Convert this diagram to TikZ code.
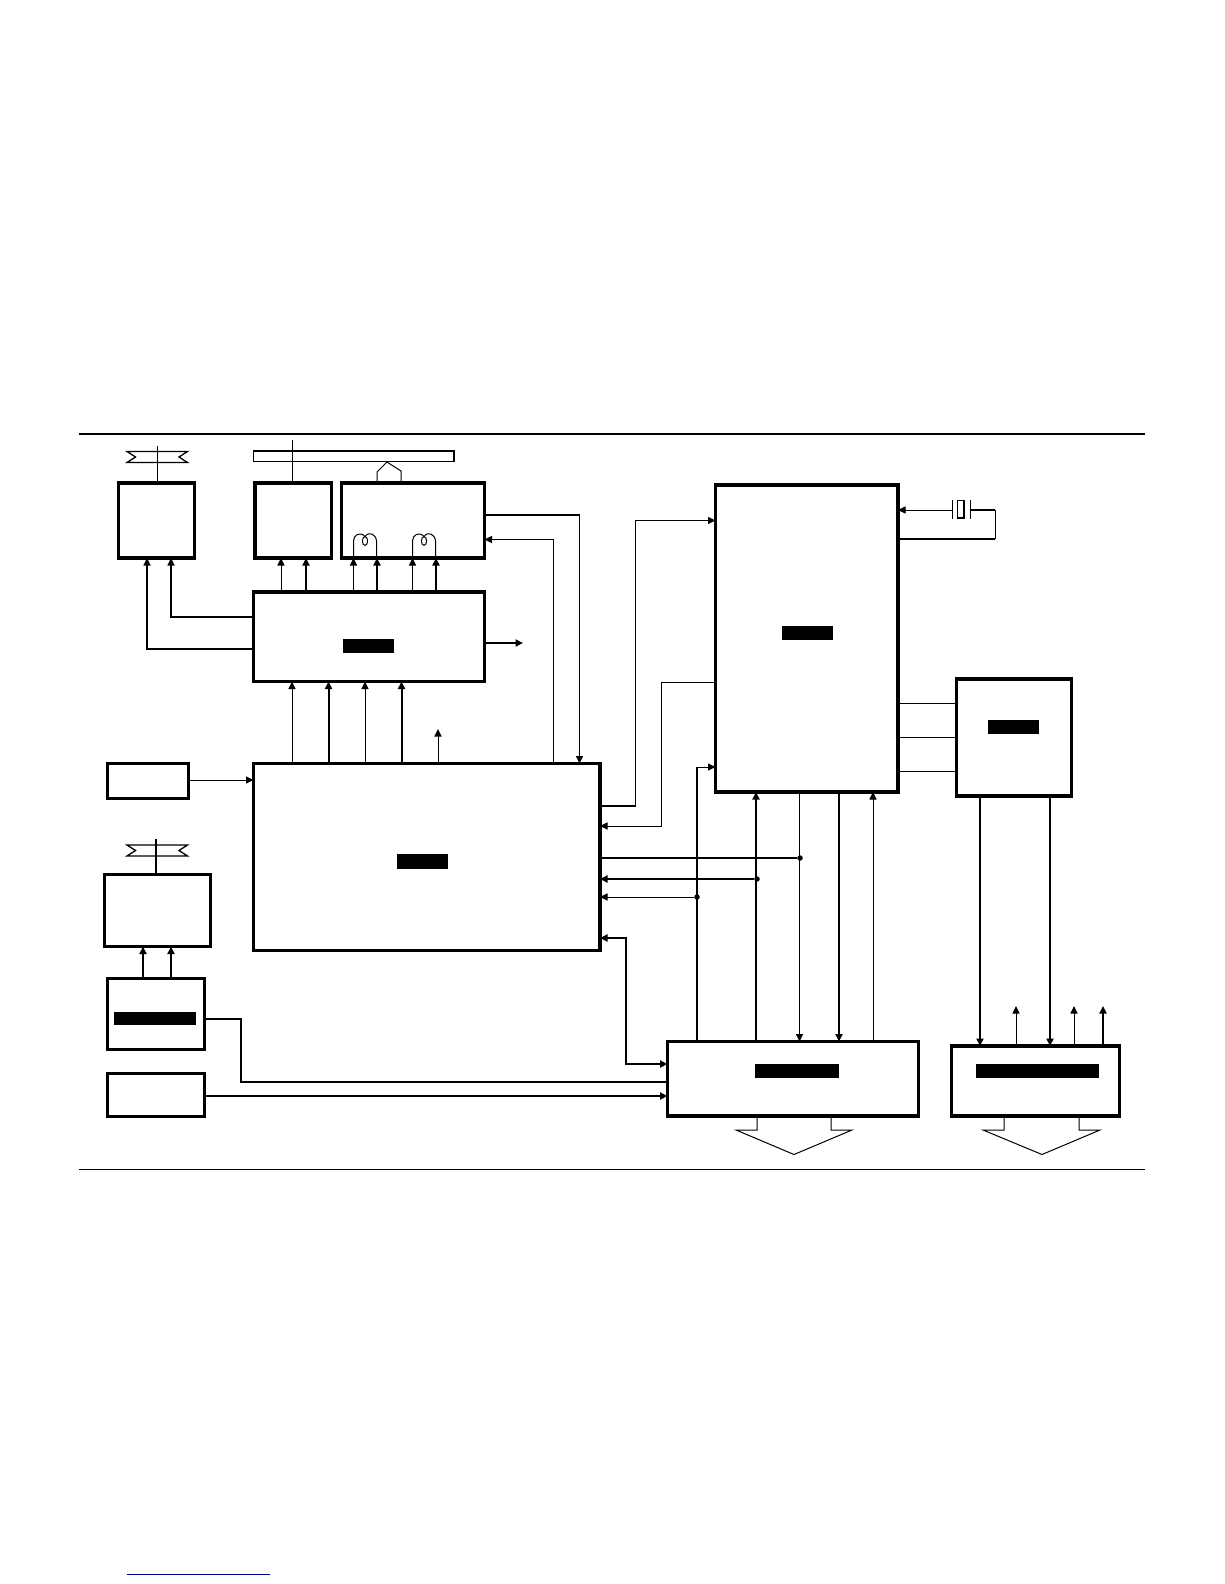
\documentclass[tikz,border=0pt]{standalone}
\usetikzlibrary{arrows.meta}
\newcommand{\mybox}[6]{\pgfmathsetmacro\mybw{#5-#3}\pgfmathsetmacro\mybh{#6-#4}\node[#1,minimum width=\mybw pt,minimum height=\mybh pt] (#2) at ({(#3+#5)/2},{(#4+#6)/2}) {};}
\tikzset{
  blk/.style={draw=black,line width=3.3pt,inner sep=0pt,outer sep=0pt,rectangle,fill=white},
  blkb/.style={draw=none,fill=black,inner sep=0pt,outer sep=0pt,rectangle},
  barbox/.style={draw=black,line width=1.3pt,inner sep=0pt,outer sep=0pt,rectangle},
  thinl/.style={line width=1pt},
  medl/.style={line width=2pt},
  tip/.style={-{Triangle[length=7.5pt,width=7pt]}},
  tipb/.style={{Triangle[length=7.5pt,width=7pt]}-{Triangle[length=7.5pt,width=7pt]}},
  dot/.style={circle,fill=black,inner sep=0pt,outer sep=0pt,minimum size=5.5pt},
}
\begin{document}
\begin{tikzpicture}[x=1pt,y=-1pt]
\useasboundingbox (0,0) rectangle (1224,1584);
% rules
\coordinate (rtl) at (79,434); \coordinate (rtr) at (1145,434);
\coordinate (rbl) at (79,1169.5); \coordinate (rbr) at (1145,1169.5);
\draw[line width=2pt] (rtl) -- (rtr);
\draw[thinl] (rbl) -- (rbr);
\coordinate (lnkl) at (127,1574); \coordinate (lnkr) at (270,1574);
\draw[line width=1pt,blue!60!black] (lnkl) -- (lnkr);
% boxes
\mybox{blk}{A}{118.5}{483}{194.5}{558}
\mybox{blk}{B}{255}{483}{331.5}{558}
\mybox{blk}{C}{341.5}{483}{484.5}{558}
\mybox{blk}{D}{253.5}{592}{484.5}{681.5}
\mybox{blkb}{Dk}{343}{639}{394}{653}
\mybox{blk}{E}{253.5}{763.5}{600}{950.5}
\mybox{blkb}{Ek}{397}{854}{448}{869}
\mybox{blk}{F}{715.5}{485}{898}{792}
\mybox{blkb}{Fk}{782}{626}{833}{640}
\mybox{blk}{J}{956.5}{679}{1071.5}{796}
\mybox{blkb}{Jk}{988}{720}{1039}{734}
\mybox{blk}{G}{667.5}{1041.5}{918.5}{1116}
\mybox{blkb}{Gk}{755}{1064}{839}{1078}
\mybox{blk}{H}{951.5}{1046}{1119.5}{1116}
\mybox{blkb}{Hk}{976}{1064}{1099}{1078}
\mybox{blk}{K}{107.5}{763.5}{188.5}{798.5}
\mybox{blk}{L}{104.5}{874.5}{210.5}{946.5}
\mybox{blk}{M}{107.5}{978.5}{204.5}{1049.5}
\mybox{blkb}{Mk}{114}{1012}{196}{1025}
\mybox{blk}{N}{107.5}{1073.5}{204.5}{1116.5}
\mybox{barbox}{Bar}{253.5}{451}{454}{461.5}
% antenna shapes
\draw[line width=1.3pt,line join=miter] (127,451.5) -- (187.5,451.5) -- (179,457) -- (187.5,462.5) -- (127,462.5) -- (135.5,457) -- cycle;
\draw[line width=1.3pt,line join=miter] (127,845) -- (187.5,845) -- (179,850.5) -- (187.5,856) -- (127,856) -- (135.5,850.5) -- cycle;
\coordinate (ant1) at (157.5,446); \coordinate (ant2) at (292,440); \coordinate (ant3) at (156,839);
\draw[thinl] (ant1) -- (A.north -| ant1);
\draw[thinl] (ant2) -- (B.north -| ant2);
\draw[medl] (ant3) -- (L.north -| ant3);
% house
\draw[thinl] (C.north -| 377,0) -- (377,472) -- (387,462) -- (401,471) -- (C.north -| 401,0);
% loops
\draw[thinl] (353.5,558) -- (353.5,541) .. controls (353.5,535) and (360,531) .. (365,536.5) .. controls (369,531) and (376,534) .. (376.5,541) -- (376.5,558);
\draw[thinl] (365,541) ellipse (2.6 and 4.4);
\begin{scope}[xshift=59pt]
\draw[thinl] (353.5,558) -- (353.5,541) .. controls (353.5,535) and (360,531) .. (365,536.5) .. controls (369,531) and (376,534) .. (376.5,541) -- (376.5,558);
\draw[thinl] (365,541) ellipse (2.6 and 4.4);
\end{scope}
% D -> A
\draw[line width=1.3pt,tip] (D.north west |- 0,617) -- (171,617) -- (A.south -| 171,0);
\draw[line width=1.3pt,tip] (D.north west |- 0,649) -- (147,649) -- (A.south -| 147,0);
% D -> B, C
\draw[thinl,tip] (D.north -| 281,0) -- (B.south -| 281,0);
\draw[medl,tip] (D.north -| 306,0) -- (B.south -| 306,0);
\draw[thinl,tip] (D.north -| 353.5,0) -- (C.south -| 353.5,0);
\draw[medl,tip] (D.north -| 377,0) -- (C.south -| 377,0);
\draw[thinl,tip] (D.north -| 412.5,0) -- (C.south -| 412.5,0);
\draw[medl,tip] (D.north -| 436,0) -- (C.south -| 436,0);
% D out
\coordinate (dout) at (523,643);
\draw[medl,tip] (D.east |- dout) -- (dout);
% E -> D
\draw[thinl,tip] (E.north -| 292,0) -- (D.south -| 292,0);
\draw[medl,tip] (E.north -| 328.5,0) -- (D.south -| 328.5,0);
\draw[thinl,tip] (E.north -| 365,0) -- (D.south -| 365,0);
\draw[medl,tip] (E.north -| 401.5,0) -- (D.south -| 401.5,0);
\coordinate (eout) at (438,729);
\draw[thinl,tip] (E.north -| eout) -- (eout);
% C <-> E
\draw[medl] (C.east |- 0,515) -- (579.5,515);
\draw[thinl,tip] (579.5,515) -- (E.north -| 579.5,0);
\draw[thinl,tip] (E.north -| 553,0) -- (553,539.5) -- (C.east |- 0,539.5);
% K -> E
\draw[thinl,tip] (K.east |- 0,780) -- (E.west |- 0,780);
% E <-> F
\draw[medl] (E.east |- 0,806) -- (635.5,806);
\draw[thinl,tip] (635.5,806) -- (635.5,520.5) -- (F.west |- 0,520.5);
\draw[thinl,tip] (F.west |- 0,682) -- (661,682) -- (661,826) -- (E.east |- 0,826);
% buses
\node[dot] (d1) at (800,858) {};
\node[dot] (d2) at (757,879) {};
\node[dot] (d3) at (697,897) {};
\draw[medl] (E.east |- d1) -- (d1);
\draw[medl,tip] (d2) -- (E.east |- d2);
\draw[thinl,tip] (d3) -- (E.east |- d3);
\draw[thinl,tip] (F.south -| 799.5,0) -- (G.north -| 799.5,0);
\draw[medl,tip] (G.north -| 756,0) -- (F.south -| 756,0);
\draw[medl,tip] (F.south -| 839,0) -- (G.north -| 839,0);
\draw[thinl,tip] (G.north -| 873,0) -- (F.south -| 873,0);
\draw[medl] (G.north -| 697,0) -- (697,767);
\draw[thinl,tip] (697,767) -- (F.west |- 0,767);
\draw[medl,tipb] (E.east |- 0,938) -- (626,938) -- (626,1064) -- (G.west |- 0,1064);
% crystal
\coordinate (xl) at (952,510); \coordinate (xr) at (970,510); \coordinate (xc) at (995,510);
\draw[thinl,tip] (xl) -- (F.east |- xl);
\draw[thinl] (952,500) -- (952,519);
\draw[thinl] (970,500) -- (970,519);
\draw[line width=1.8pt] (957.5,500.5) rectangle (964,518);
\draw[medl] (xr) -- (xc);
\draw[thinl] (xc) -- (995,539);
\draw[medl] (995,539) -- (F.east |- 0,539);
% F -- J
\draw[thinl] (F.east |- 0,703) -- (J.west |- 0,703);
\draw[thinl] (F.east |- 0,737.5) -- (J.west |- 0,737.5);
\draw[thinl] (F.east |- 0,771.5) -- (J.west |- 0,771.5);
% J -> H
\draw[medl,tip] (J.south -| 980,0) -- (H.north -| 980,0);
\draw[medl,tip] (J.south -| 1050,0) -- (H.north -| 1050,0);
% H out
\coordinate (h1) at (1016,1006); \coordinate (h2) at (1074,1006); \coordinate (h3) at (1103,1006);
\draw[thinl,tip] (H.north -| h1) -- (h1);
\draw[thinl,tip] (H.north -| h2) -- (h2);
\draw[medl,tip] (H.north -| h3) -- (h3);
% M -> L
\draw[medl,tip] (M.north -| 143,0) -- (L.south -| 143,0);
\draw[medl,tip] (M.north -| 171,0) -- (L.south -| 171,0);
% M, N -> G
\draw[medl] (M.east |- 0,1019) -- (241,1019) -- (241,1082) -- (G.west |- 0,1082);
\draw[medl,tip] (N.east |- 0,1096) -- (G.west |- 0,1096);
% big arrows
\draw[thinl,line join=miter] (G.south -| 757,0) -- (757,1130) -- (736,1130) -- (794,1154.5) -- (852,1130) -- (831,1130) -- (G.south -| 831,0);
\draw[thinl,line join=miter] (H.south -| 1004,0) -- (1004,1130) -- (983,1130) -- (1042,1154.5) -- (1100,1130) -- (1079,1130) -- (H.south -| 1079,0);
\end{tikzpicture}
\end{document}
